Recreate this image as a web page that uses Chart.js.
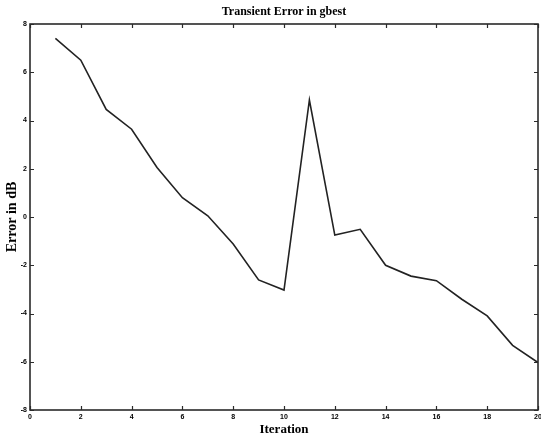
<!DOCTYPE html>
<html>
<head>
<meta charset="utf-8">
<script src="https://cdn.jsdelivr.net/npm/chart.js@4/dist/chart.umd.min.js"></script>
<style>
  html, body { margin: 0; padding: 0; background: #ffffff; }
  #wrap { width: 541px; height: 438px; }
</style>
</head>
<body>
<div id="wrap"><canvas id="c" width="541" height="438"></canvas></div>
<script>
const iterations = [1, 2, 3, 4, 5, 6, 7, 8, 9, 10, 11, 12, 13, 14, 15, 16, 17, 18, 19, 20];
const errorDb = [7.4, 6.5, 4.46, 3.64, 2.05, 0.8, 0.05, -1.12, -2.61, -3.03, 4.85, -0.75, -0.51, -2.0, -2.45, -2.64, -3.41, -4.1, -5.32, -6.03];
const xTicks = [0, 2, 4, 6, 8, 10, 12, 14, 16, 18, 20];
const yTicks = [-8, -6, -4, -2, 0, 2, 4, 6, 8];

const chartTitle = 'Transient Error in gbest';
const xTitle = 'Iteration';
const yTitle = 'Error in dB';

const points = iterations.map((x, i) => ({ x: x, y: errorDb[i] }));

const frameColor = '#2a2a2a';
const tickLen = 4;

const boxTicksPlugin = {
  id: 'boxTicks',
  afterDraw(chart) {
    const { ctx, chartArea: a, scales } = chart;
    ctx.save();
    ctx.strokeStyle = frameColor;
    ctx.lineWidth = 1.6;
    ctx.strokeRect(a.left, a.top, a.right - a.left, a.bottom - a.top);
    ctx.lineWidth = 1.2;
    ctx.beginPath();
    scales.x.ticks.forEach(t => {
      const px = Math.round(scales.x.getPixelForValue(t.value)) + 0.5;
      ctx.moveTo(px, a.bottom); ctx.lineTo(px, a.bottom - tickLen);
      ctx.moveTo(px, a.top); ctx.lineTo(px, a.top + tickLen);
    });
    scales.y.ticks.forEach(t => {
      const py = Math.round(scales.y.getPixelForValue(t.value)) + 0.5;
      ctx.moveTo(a.left, py); ctx.lineTo(a.left + tickLen, py);
      ctx.moveTo(a.right, py); ctx.lineTo(a.right - tickLen, py);
    });
    ctx.stroke();
    ctx.restore();
  }
};

new Chart(document.getElementById('c'), {
  type: 'line',
  data: {
    datasets: [{
      data: points,
      borderColor: '#222222',
      borderWidth: 1.6,
      pointRadius: 0,
      tension: 0,
      fill: false
    }]
  },
  options: {
    responsive: false,
    animation: false,
    devicePixelRatio: 1,
    layout: { padding: { left: 0, right: 3, top: 0, bottom: 0 } },
    plugins: {
      legend: { display: false },
      tooltip: { enabled: false },
      title: {
        display: true,
        text: chartTitle,
        fullSize: false,
        color: '#000000',
        font: { family: '"Liberation Serif", "Times New Roman", serif', size: 12, weight: 'bold', lineHeight: 1.2 },
        padding: { top: 5, bottom: 4.6 }
      }
    },
    scales: {
      x: {
        type: 'linear',
        min: 0,
        max: 20,
        afterBuildTicks(scale) { scale.ticks = xTicks.map(v => ({ value: v })); },
        afterFit(scale) { scale.height = 28; scale.paddingLeft = 0; scale.paddingRight = 0; },
        grid: { display: false, drawTicks: false },
        border: { display: false },
        ticks: {
          color: '#000000',
          padding: 3,
          maxRotation: 0,
          autoSkip: false,
          font: { family: '"Liberation Sans", Arial, sans-serif', size: 7, weight: 'bold' }
        },
        title: {
          display: true,
          text: xTitle,
          color: '#000000',
          font: { family: '"Liberation Serif", "Times New Roman", serif', size: 13, weight: 'bold', lineHeight: 1.2 },
          padding: { top: 0, bottom: 1 }
        }
      },
      y: {
        type: 'linear',
        min: -8,
        max: 8,
        afterBuildTicks(scale) { scale.ticks = yTicks.map(v => ({ value: v })); },
        afterFit(scale) { scale.width = 30; scale.paddingTop = 0; scale.paddingBottom = 0; },
        grid: { display: false, drawTicks: false },
        border: { display: false },
        ticks: {
          color: '#000000',
          padding: 3,
          autoSkip: false,
          font: { family: '"Liberation Sans", Arial, sans-serif', size: 7, weight: 'bold' }
        },
        title: {
          display: true,
          text: yTitle,
          color: '#000000',
          font: { family: '"Liberation Serif", "Times New Roman", serif', size: 14, weight: 'bold', lineHeight: 1.2 },
          padding: { top: 4, bottom: 0 }
        }
      }
    }
  },
  plugins: [boxTicksPlugin]
});
</script>
</body>
</html>
